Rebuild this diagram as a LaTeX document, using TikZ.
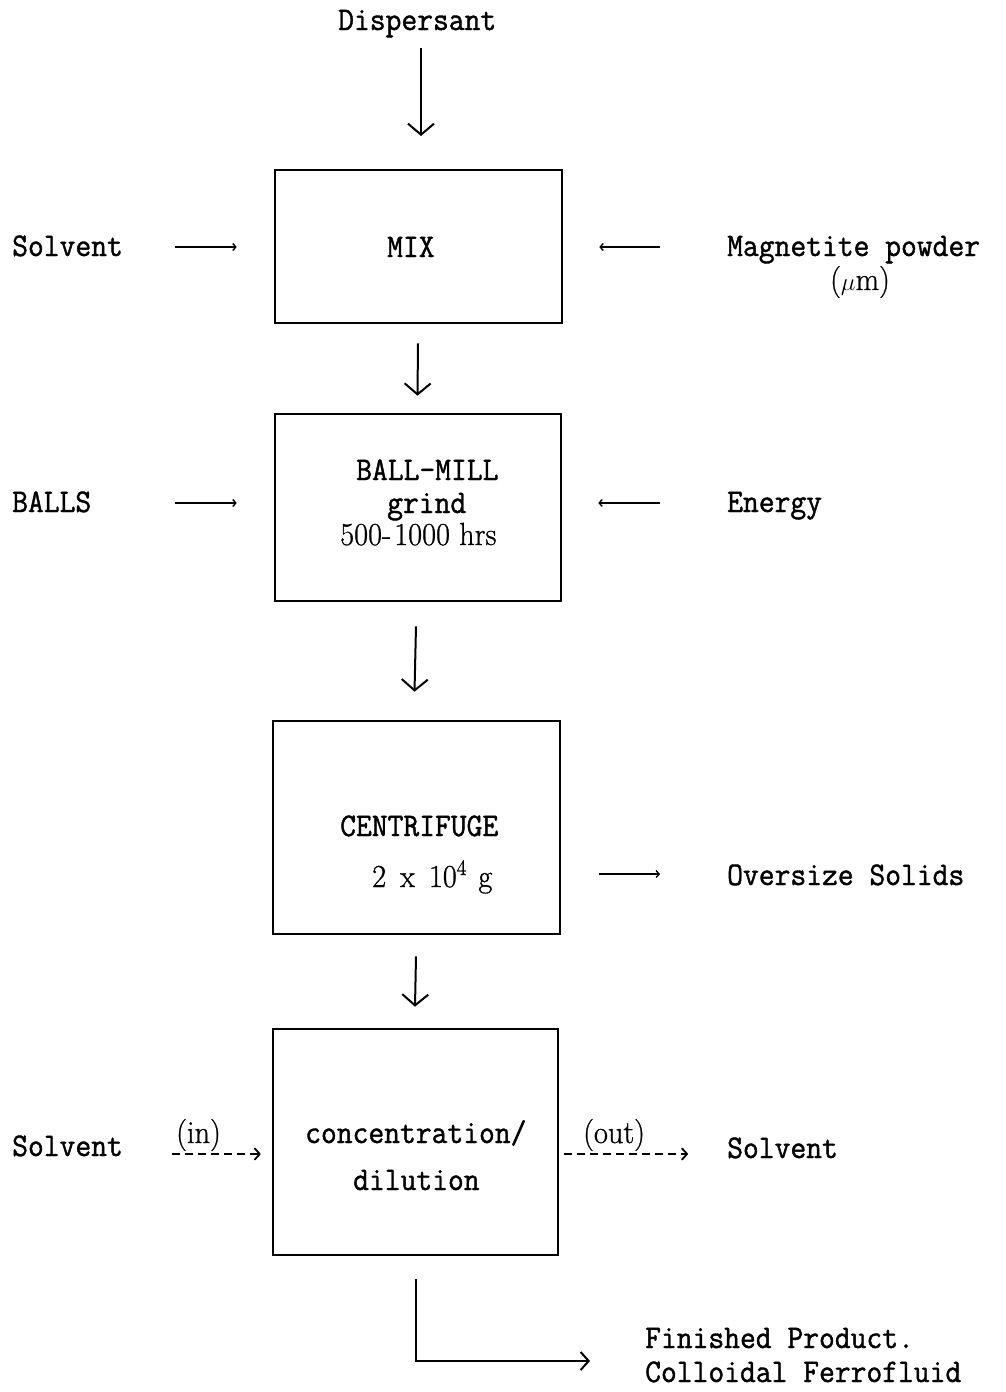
\documentclass[tikz,border=0pt]{standalone}
\usepackage{fontspec}
\newfontfamily\typew[FakeBold=1.2,FakeStretch=0.93]{Latin Modern Mono}
\newfontfamily\romw[FakeBold=0.8,FakeStretch=0.95]{Latin Modern Roman}
\usetikzlibrary{arrows.meta}
\begin{document}
\begin{tikzpicture}[x=1pt,y=-1pt,
  txt/.style={font=\fontsize{33}{36}\selectfont\typew, inner sep=0pt, anchor=base west},
  rtxt/.style={font=\fontsize{32}{36}\selectfont\romw, inner sep=0pt, anchor=base west},
  procbox/.style={draw, line width=2.6pt, inner sep=0pt},
  bigarrow/.style={line width=2pt, -{Straight Barb[length=11pt,width=26pt,line width=2pt]}},
  smallarrow/.style={line width=1.8pt, -{Straight Barb[length=3pt,width=7pt,line width=1.4pt]}},
  dasharrow/.style={line width=1.5pt, dash pattern=on 8pt off 5pt, -{Straight Barb[length=5pt,width=11pt,line width=1.8pt,round]}},
  plainline/.style={line width=2pt}]
\useasboundingbox (0,0) rectangle (1005,1392);
\fill[white] (0,0) rectangle (1005,1392);

% boxes
\node[procbox, minimum width=287pt, minimum height=153pt] (mix) at (418.5,246.5) {};
\node[procbox, minimum width=286pt, minimum height=187pt] (ball) at (418,507.5) {};
\node[procbox, minimum width=287pt, minimum height=213pt] (cent) at (416.5,827.5) {};
\node[procbox, minimum width=285pt, minimum height=226pt] (conc) at (415.5,1142) {};

% box texts
\node[txt] (tmix) at (387,257) {MIX};
\node[txt] (tball) at (356,480) {BALL-MILL};
\node[txt] (tgrind) at (387,513) {grind};
\node[rtxt] (thrs) at (340,545) {500-\hspace{3pt}1000 hrs};
\node[txt] (tcent) at (340,836) {CENTRIFUGE};
\node[rtxt] (tg) at (372,887) {2\hspace{14pt}x\hspace{14pt}10\raisebox{12pt}{\fontsize{22}{24}\selectfont 4}\hspace{12pt}g};
\node[txt] (tconc) at (305,1143) {concentration/};
\node[txt] (tdil) at (353,1190) {dilution};

% outside labels
\node[txt] (disp) at (338,30) {Dispersant};
\node[txt] (solv1) at (12,256) {Solvent};
\node[txt] (magn) at (727,256) {Magnetite powder};
\node[rtxt] (mum) at (830,290) {($\mu$m)};
\node[txt] (balls) at (12,512) {BALLS};
\node[txt] (energy) at (727,512) {Energy};
\node[txt] (overs) at (727,885) {Oversize Solids};
\node[txt] (solv2) at (12,1156) {Solvent};
\node[txt] (solv3) at (727,1158) {Solvent};
\node[txt] (finp) at (645,1348) {Finished Product.};
\node[txt] (coll) at (645,1382) {Colloidal Ferrofluid};
\node[rtxt] (in) at (176,1143) {(in)};
\node[rtxt] (out) at (583,1143) {(out)};

% coordinates for free ends
\coordinate (dispA) at (421,48);
\coordinate (dispB) at (421,136);
\coordinate (s1) at (175,247);
\coordinate (m1) at (660,247);
\coordinate (b1) at (175,503);
\coordinate (e1) at (660,503);
\coordinate (o1) at (660,874);
\coordinate (inS) at (172,1154);
\coordinate (outE) at (688,1154);
\coordinate (fin) at (590,1361);

% vertical arrows
\draw[bigarrow] (dispA) -- (dispB);
\draw[bigarrow] ([xshift=-0.5pt,yshift=-19pt]mix.south) -- ([xshift=-0.5pt,yshift=17pt]ball.north);
\draw[bigarrow] ([xshift=-2pt,yshift=-24pt]ball.south) -- ([xshift=-2pt,yshift=28pt]cent.north);
\draw[bigarrow] ([xshift=-0.5pt,yshift=-21pt]cent.south) -- ([xshift=-0.5pt,yshift=21pt]conc.north);

% side arrows
\draw[smallarrow, shorten >=37pt] (s1) -- (s1 -| mix.west);
\draw[smallarrow, shorten >=36pt] (m1) -- (m1 -| mix.east);
\draw[smallarrow, shorten >=37pt] (b1) -- (b1 -| ball.west);
\draw[smallarrow, shorten >=36pt] (e1) -- (e1 -| ball.east);
\draw[smallarrow, shorten <=38pt] (o1 -| cent.east) -- (o1);
\draw[dasharrow, shorten >=11pt] (inS) -- (inS -| conc.west);
\draw[dasharrow, shorten <=5pt] (outE -| conc.east) -- (outE);

% output
\draw[plainline, -{Straight Barb[length=8pt,width=18pt,line width=2pt]}] ([yshift=-23pt]conc.south) |- (fin);
\end{tikzpicture}
\end{document}
